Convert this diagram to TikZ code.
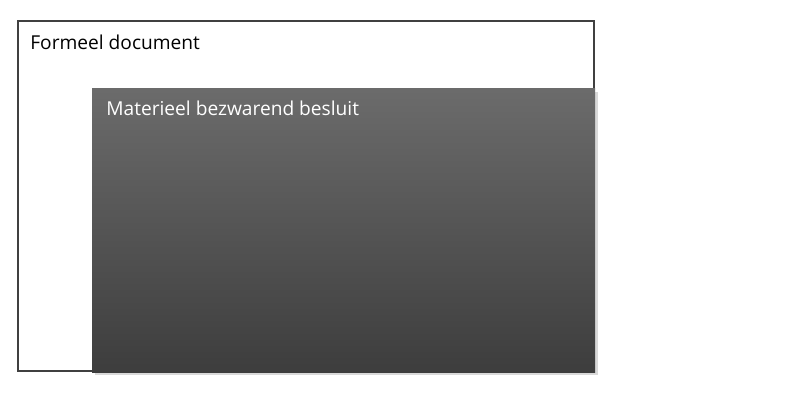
\documentclass[tikz,border=0pt]{standalone}
\usepackage{fontspec}
\setmainfont{Open Sans}
\usetikzlibrary{shadows}
\tikzstyle{document} = [rectangle, draw=black!75, line width=0.6pt, fill=white]
\tikzstyle{besluit} = [rectangle, top color=black!58, bottom color=black!76, draw=none,
drop shadow={shadow xshift=1.8pt, shadow yshift=-1.8pt, opacity=0.3}]
\tikzstyle{caption} = [anchor=base west, inner sep=0pt, font=\fontsize{10.9}{13}\selectfont]

\begin{document}
\begin{tikzpicture}
\useasboundingbox (0,0) rectangle (16,-8);
\node (formeel)[document, minimum width=11.52cm, minimum height=7cm] at (6.12,-3.92){};
\node (materieel)[besluit, minimum width=10.06cm, minimum height=5.66cm] at (6.87,-4.61){};
\node (formeeltekst)[caption] at (0.6,-1.0){Formeel document};
\node (materieeltekst)[caption, text=white] at (2.12,-2.32){Materieel bezwarend besluit};
\end{tikzpicture}
\end{document}
